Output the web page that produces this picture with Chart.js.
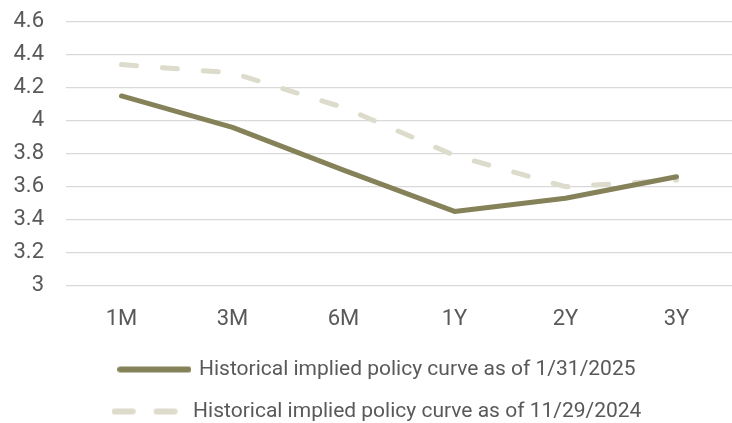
<!DOCTYPE html>
<html>
<head>
<meta charset="utf-8">
<script src="https://cdn.jsdelivr.net/npm/chart.js@4/dist/chart.umd.min.js"></script>
<style>
  html, body { margin: 0; padding: 0; background: #ffffff; overflow: hidden; }
  #wrap { width: 732px; height: 423px; }
</style>
</head>
<body>
<div id="wrap"><canvas id="c"></canvas></div>
<script>
// Tenors along the curve
const tenors = ['1M', '3M', '6M', '1Y', '2Y', '3Y'];
// Implied policy rate (%) at each tenor
const curveJan2025 = [4.15, 3.96, 3.70, 3.45, 3.53, 3.66];
const curveNov2024 = [4.34, 4.29, 4.08, 3.79, 3.60, 3.64];
const seriesLabels = [
  'Historical implied policy curve as of 1/31/2025',
  'Historical implied policy curve as of 11/29/2024'
];
const yMin = 3, yMax = 4.6, yStep = 0.2;

const textColor = '#595959';
const solidColor = '#85825A';
const dashColor = '#DDDBCB';
const fontFamily = 'Roboto, "Open Sans", sans-serif';

// Small line swatches used as legend markers
function swatch(color, segments) {
  const cv = document.createElement('canvas');
  cv.width = 74; cv.height = 8;
  const g = cv.getContext('2d');
  g.strokeStyle = color;
  g.lineWidth = 6;
  g.lineCap = 'round';
  segments.forEach(([a, b]) => {
    g.beginPath();
    g.moveTo(a, 4);
    g.lineTo(b, 4);
    g.stroke();
  });
  return cv;
}
const solidSwatch = swatch(solidColor, [[3, 71]]);
const dashSwatch = swatch(dashColor, [[3, 21], [45, 63]]);

// Centre the legend rows over the region right of the tick labels' gutter
const legendOffset = {
  id: 'legendOffset',
  afterLayout(chart) {
    if (chart.legend) chart.legend.left = 24;
  }
};

new Chart(document.getElementById('c'), {
  type: 'line',
  data: {
    labels: tenors,
    datasets: [
      {
        label: seriesLabels[0],
        data: curveJan2025,
        borderColor: solidColor,
        backgroundColor: solidColor,
        borderWidth: 5,
        borderCapStyle: 'round',
        borderJoinStyle: 'round',
        pointRadius: 0,
        pointStyle: solidSwatch,
        tension: 0,
        order: 1
      },
      {
        label: seriesLabels[1],
        data: curveNov2024,
        borderColor: dashColor,
        backgroundColor: dashColor,
        borderWidth: 5,
        borderDash: [15, 26],
        borderCapStyle: 'round',
        borderJoinStyle: 'round',
        pointRadius: 0,
        pointStyle: dashSwatch,
        tension: 0,
        order: 2
      }
    ]
  },
  plugins: [legendOffset],
  options: {
    responsive: true,
    maintainAspectRatio: false,
    animation: false,
    layout: { padding: { top: 21.7, right: 0, bottom: -9, left: 0 } },
    plugins: {
      tooltip: { enabled: false },
      legend: {
        position: 'bottom',
        align: 'center',
        labels: {
          usePointStyle: true,
          pointStyleWidth: 68,
          padding: 21,
          color: textColor,
          font: { family: fontFamily, size: 21 }
        }
      }
    },
    scales: {
      x: {
        offset: true,
        grid: { display: false, drawTicks: false },
        border: { display: false },
        ticks: {
          color: textColor,
          padding: 21,
          font: { family: fontFamily, size: 22 }
        },
        afterFit: (s) => { s.height = 52.3; }
      },
      y: {
        min: yMin,
        max: yMax,
        grid: { color: '#D9D9D9', lineWidth: 1.3, drawTicks: false },
        border: { display: false },
        ticks: {
          stepSize: yStep,
          color: textColor,
          padding: 22,
          font: { family: fontFamily, size: 22 },
          callback: (v) => Number(v.toFixed(1)).toString()
        },
        afterFit: (s) => {
          s.width = 66;
          s.paddingTop = 0;
          s.paddingBottom = 0;
        }
      }
    }
  }
});
</script>
</body>
</html>
